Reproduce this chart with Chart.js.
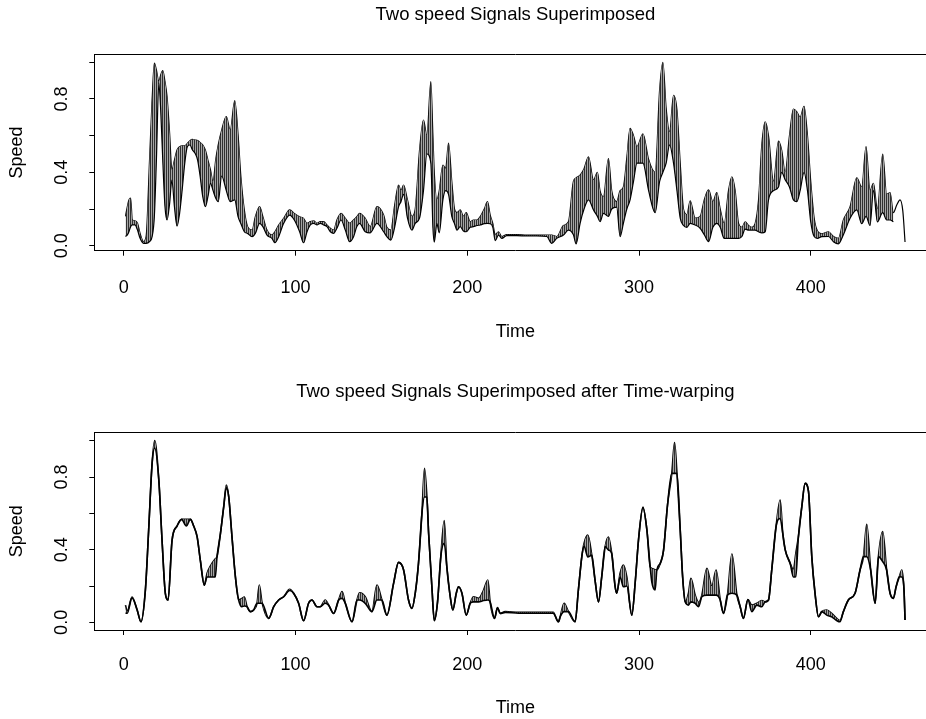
<!DOCTYPE html>
<html>
<head>
<meta charset="utf-8">
<script src="https://cdn.jsdelivr.net/npm/chart.js@4.4.1/dist/chart.umd.min.js"></script>
<style>
  html, body { margin:0; padding:0; background:#fff; overflow:hidden; }
  #wrap { position:relative; width:926px; height:719px; overflow:hidden; background:#fff; }
  canvas { position:absolute; left:0; }
  #graficoArriba { top:0; width:940px; height:360px; }
  #graficoAbajo { top:360px; width:940px; height:359px; }
</style>
</head>
<body>
<div id="wrap">
  <canvas id="graficoArriba" width="940" height="360"></canvas>
  <canvas id="graficoAbajo" width="940" height="359"></canvas>
</div>
<script>
// datos (tiempo, senal de arriba, senal de abajo)
const tiempoArriba = [1,2,3,4,5,6.5,8,9.5,11.5,13,15,16.5,17.8,19,20.4,21.5,22.7,24,25.2,26.7,28,29.5,31,32.5,34,35.5,37,38.5,40,41.5,43,44.5,46,47.5,49,50.5,52,53.5,55,57,59.7,62,64.6,66.5,68.2,70.2,72.1,74.7,76.6,79.1,81,83.4,86.3,88,90.2,93.1,96.6,99.3,102.4,104.7,106.7,108.6,110.6,112.5,114.4,116.4,118.3,120.3,122.2,124.1,126.5,129,131.5,133.8,135.7,137.3,140.6,143.5,147.4,151.3,153.2,155.5,157.7,160,161.4,162.9,165.2,167.8,169.7,172.2,174.5,176.5,178.8,180,180.8,182.3,183.7,185.8,187.4,189.1,191,192.6,194,195.9,197.8,199.4,201.7,203.6,205.6,207.5,209.9,211.8,213.3,214.9,216.3,218.2,220.1,223,228.9,234.7,240.5,246.3,249.2,252.1,256,258.9,261.8,263.4,265.7,268,270.6,273.5,275.8,277.3,279.3,282.2,284.1,287,289,290.9,292.9,294.8,296.8,298.8,302.3,305.6,309.4,312,313.9,315.8,317.8,320.1,322.1,324,325.9,327.9,329.8,332.7,335.6,338,340.5,343,345.3,347.3,349.6,352.1,354.1,356,358,359.9,361.8,363.8,365.7,367.6,369.6,371.5,373.5,375.4,378.3,381.2,383.1,385.1,387.6,389.9,391.9,393.8,396.1,398.1,400,402,403.9,406.4,410.3,413.2,416.1,419,422.9,426.8,429.7,432.2,434.5,436.5,438.8,441.9,444.2,446.2,448.1,450,452,453.6,454.9];
const senalAArriba = [0.16,0.21,0.25,0.26,0.14,0.136,0.122,0.067,0.022,0.049,0.467,0.795,0.995,0.958,0.895,0.931,0.955,0.895,0.813,0.613,0.413,0.467,0.522,0.54,0.545,0.544,0.558,0.573,0.58,0.576,0.573,0.562,0.549,0.522,0.467,0.413,0.349,0.467,0.55,0.63,0.704,0.631,0.791,0.613,0.376,0.195,0.104,0.085,0.158,0.213,0.158,0.085,0.058,0.076,0.113,0.149,0.195,0.176,0.158,0.149,0.122,0.131,0.136,0.122,0.131,0.131,0.113,0.095,0.085,0.14,0.176,0.149,0.122,0.14,0.158,0.176,0.149,0.104,0.213,0.167,0.1,0.085,0.22,0.331,0.30,0.331,0.25,0.16,0.2,0.52,0.685,0.6,0.895,0.6,0.4,0.25,0.3,0.44,0.42,0.56,0.35,0.2,0.18,0.195,0.16,0.18,0.13,0.14,0.14,0.158,0.2,0.24,0.17,0.12,0.06,0.076,0.05,0.06,0.06,0.058,0.058,0.058,0.058,0.05,0.11,0.13,0.35,0.37,0.385,0.42,0.485,0.358,0.40,0.3,0.267,0.475,0.3,0.24,0.3,0.32,0.48,0.64,0.60,0.54,0.61,0.47,0.40,0.85,1.0,0.75,0.62,0.82,0.74,0.45,0.2,0.17,0.245,0.15,0.16,0.25,0.304,0.24,0.29,0.2,0.12,0.3,0.376,0.3,0.12,0.1,0.13,0.11,0.1,0.12,0.25,0.55,0.675,0.6,0.35,0.57,0.52,0.4,0.6,0.745,0.73,0.7,0.76,0.6,0.35,0.15,0.08,0.065,0.076,0.05,0.04,0.14,0.213,0.37,0.32,0.54,0.30,0.34,0.2,0.50,0.28,0.29,0.18,0.22,0.25,0.19,0.02];
const senalBArriba = [0.05,0.058,0.076,0.104,0.113,0.113,0.085,0.04,0.013,0.013,0.022,0.049,0.158,0.467,0.885,0.74,0.467,0.213,0.14,0.231,0.358,0.213,0.107,0.176,0.304,0.449,0.54,0.549,0.522,0.504,0.467,0.376,0.267,0.213,0.267,0.34,0.30,0.26,0.24,0.38,0.30,0.24,0.25,0.16,0.12,0.076,0.067,0.049,0.067,0.122,0.104,0.058,0.04,0.016,0.049,0.122,0.167,0.14,0.076,0.016,0.076,0.113,0.122,0.113,0.122,0.113,0.104,0.076,0.067,0.095,0.14,0.085,0.022,0.049,0.104,0.122,0.076,0.07,0.122,0.076,0.05,0.03,0.1,0.213,0.24,0.28,0.15,0.085,0.122,0.15,0.3,0.5,0.45,0.1,0.02,0.12,0.07,0.25,0.30,0.28,0.16,0.12,0.085,0.104,0.08,0.076,0.1,0.104,0.11,0.113,0.12,0.122,0.12,0.1,0.027,0.058,0.04,0.055,0.055,0.053,0.053,0.05,0.013,0.04,0.058,0.085,0.06,0.01,0.122,0.2,0.25,0.195,0.16,0.131,0.176,0.16,0.2,0.21,0.049,0.122,0.2,0.25,0.35,0.45,0.45,0.30,0.18,0.35,0.40,0.45,0.55,0.45,0.3,0.15,0.11,0.1,0.122,0.113,0.095,0.06,0.022,0.1,0.122,0.1,0.04,0.04,0.04,0.04,0.04,0.05,0.09,0.085,0.085,0.085,0.076,0.07,0.076,0.25,0.3,0.32,0.4,0.36,0.32,0.25,0.24,0.3,0.4,0.3,0.13,0.05,0.04,0.049,0.05,0.022,0.01,0.06,0.15,0.195,0.12,0.16,0.11,0.3,0.13,0.18,0.14,0.14,0.13,null,null,null,null];

const tiempoAbajo = [1,2,4.8,7.8,10,12.6,14.5,16.5,18,20.4,22.3,24.2,25.8,28.1,31,33.7,36.4,38.8,40.7,42.7,44.6,46.9,48.5,50.4,53.3,54.3,56.3,58.2,59.7,61.1,63,65,66.9,68.8,70.2,71.8,73.7,75.6,77.6,78.9,80.5,84.4,87.3,90.2,93.1,96.6,98.9,101.8,104.7,107.6,109.6,112.5,114.4,117.3,119.3,122.2,125.1,127.1,129,132.9,135.8,137.3,140.6,144.5,147.4,150.3,153.2,157.1,160,162.9,165.8,167.8,169.7,171.6,173.6,175.1,176.5,177.5,179.4,180.8,182.7,184.6,186.6,188.1,190.1,191.6,193.6,194.9,196.9,199.4,201.7,203.6,206.6,209.5,212,213.3,215.9,217.6,219.2,222.1,230,240,250,253.1,254.1,256.4,258.9,262.8,264.7,266.7,268,270.2,272.5,274.4,276.4,278.3,280.3,282.2,284.1,286.1,287,289,290.9,292.9,295.8,297.9,299.7,302.3,304.6,306.5,307.5,309.4,310.4,312.4,314.3,316.6,319.1,320.7,322.1,324,325.4,326.9,328.8,330.2,332.7,334.7,336.6,339.5,342.4,344.9,347.3,349.2,351.5,354.1,357,358.9,360.8,363.4,365.7,368.6,371.5,373.5,375.4,377.3,379.8,382.2,383.7,385.1,388,389.9,391.3,392.8,394.8,396.7,398.7,400.6,402.5,404.5,406.4,409.3,412.2,415.1,417,419,421.9,425.8,428.7,430.7,432.6,434.9,437.5,439.4,441.9,444.2,446.2,448.1,449.7,451.6,453,454.3,454.9];
const senalAAbajo = [0.095,0.06,0.14,0.068,0.003,0.18,0.51,0.875,1.0,0.784,0.45,0.16,0.123,0.45,0.53,0.567,0.567,0.567,0.53,0.472,0.34,0.205,0.27,0.31,0.35,0.362,0.49,0.637,0.756,0.692,0.472,0.25,0.123,0.132,0.14,0.086,0.059,0.068,0.105,0.205,0.11,0.022,0.086,0.123,0.141,0.182,0.16,0.105,0.009,0.105,0.123,0.086,0.086,0.123,0.095,0.049,0.123,0.169,0.105,0.003,0.123,0.163,0.141,0.059,0.205,0.123,0.04,0.215,0.33,0.29,0.123,0.077,0.16,0.325,0.6,0.848,0.69,0.49,0.196,0.01,0.113,0.362,0.56,0.306,0.141,0.068,0.16,0.196,0.16,0.04,0.105,0.141,0.132,0.178,0.233,0.113,0.022,0.082,0.049,0.059,0.055,0.055,0.055,0.003,0.031,0.105,0.059,0.003,0.178,0.362,0.435,0.48,0.37,0.233,0.113,0.252,0.417,0.47,0.38,0.196,0.16,0.27,0.315,0.25,0.04,0.233,0.453,0.633,0.508,0.306,0.297,0.29,0.289,0.325,0.398,0.646,0.82,0.989,0.82,0.508,0.251,0.113,0.16,0.242,0.15,0.11,0.15,0.297,0.2,0.288,0.123,0.049,0.15,0.376,0.15,0.086,0.022,0.126,0.095,0.105,0.12,0.113,0.123,0.29,0.527,0.673,0.49,0.4,0.325,0.29,0.38,0.47,0.637,0.765,0.72,0.362,0.16,0.031,0.059,0.068,0.049,0.022,0.01,0.059,0.123,0.16,0.288,0.362,0.54,0.288,0.105,0.362,0.5,0.288,0.16,0.132,0.196,0.251,0.288,0.178,0.013];
const senalBAbajo = [0.05,0.05,0.135,0.068,0.003,0.18,0.51,0.875,0.96,0.784,0.45,0.16,0.123,0.45,0.53,0.567,0.53,0.567,0.53,0.472,0.34,0.205,0.25,0.25,0.25,0.362,0.49,0.637,0.74,0.692,0.472,0.25,0.123,0.086,0.09,0.086,0.059,0.068,0.105,0.105,0.105,0.022,0.086,0.123,0.141,0.175,0.16,0.105,0.009,0.105,0.123,0.086,0.086,0.105,0.095,0.049,0.123,0.132,0.105,0.003,0.123,0.123,0.105,0.059,0.123,0.123,0.04,0.215,0.33,0.29,0.123,0.077,0.16,0.325,0.6,0.69,0.69,0.49,0.196,0.01,0.113,0.362,0.435,0.306,0.141,0.068,0.16,0.196,0.16,0.04,0.105,0.113,0.113,0.12,0.123,0.113,0.022,0.082,0.049,0.055,0.05,0.05,0.05,0.003,0.031,0.059,0.059,0.003,0.178,0.362,0.42,0.36,0.37,0.233,0.113,0.252,0.417,0.398,0.38,0.196,0.16,0.25,0.196,0.2,0.04,0.233,0.453,0.633,0.508,0.306,0.22,0.178,0.289,0.325,0.398,0.646,0.82,0.82,0.82,0.508,0.251,0.113,0.095,0.113,0.105,0.086,0.141,0.15,0.15,0.15,0.123,0.049,0.15,0.16,0.15,0.086,0.022,0.126,0.059,0.095,0.086,0.113,0.123,0.29,0.527,0.572,0.49,0.4,0.325,0.25,0.251,0.47,0.637,0.765,0.72,0.362,0.16,0.031,0.059,0.04,0.03,0.01,0.003,0.059,0.123,0.16,0.288,0.362,0.362,0.288,0.105,0.362,0.334,0.288,0.16,0.132,0.196,0.251,0.25,0.178,0.013];

const ticksX = [0, 100, 200, 300, 400];
const ticksYConTexto = [0, 0.4, 0.8];

Chart.defaults.font.family = "'Liberation Sans', Arial, sans-serif";
Chart.defaults.font.size = 18;
Chart.defaults.color = '#000000';

// arma los puntos {x,y} sacando los huecos
function puntos(tiempos, valores){
	const lista = [];
	for (let i = 0; i < tiempos.length; i++) {
		if(valores[i] !== null){
			lista.push({x: tiempos[i], y: valores[i]});
		}
	}
	return lista;
}

function etiquetaY(v){
	for (const k of ticksYConTexto) {
		if(Math.abs(v - k) < 1e-6) return k.toFixed(1);
	}
	return '';
}

// rayado vertical para el area entre las dos senales
function rayado(){
	const c = document.createElement('canvas');
	c.width = 2;
	c.height = 2;
	const ctx = c.getContext('2d');
	ctx.fillStyle = '#a4a4a4';
	ctx.fillRect(0, 0, 2, 2);
	ctx.fillStyle = '#303030';
	ctx.fillRect(0, 0, 1, 2);
	return ctx.createPattern(c, 'repeat');
}

// crea un panel (dos senales con el area entre ellas)
function pintaPanel(canvas, cfg){
	const datasets = [
		{
			data: puntos(cfg.tiempo, cfg.abajo),
			borderColor: '#000000',
			borderWidth: cfg.grosor,
			pointRadius: 0,
			cubicInterpolationMode: 'monotone',
			backgroundColor: rayado(),
			fill: '+1'
		},
		{
			data: puntos(cfg.tiempo, cfg.arriba),
			borderColor: '#000000',
			borderWidth: cfg.grosor,
			pointRadius: 0,
			cubicInterpolationMode: 'monotone',
			fill: false
		}
	];

	const options = {
		responsive: false,
		animation: false,
		devicePixelRatio: 1,
		layout: { padding: { left: 0, top: 0, right: 3.6, bottom: 0 } },
		plugins: { legend: { display: false }, tooltip: { enabled: false } },
		scales: {
			x: {
				type: 'linear',
				position: 'bottom',
				min: -17.16,
				max: 473.16,
				afterFit: s => { s.height = cfg.altoEjeX; },
				afterBuildTicks: s => { s.ticks = ticksX.map(v => ({value: v})); },
				ticks: { color: '#000', padding: cfg.padTicksX, maxRotation: 0, autoSkip: false, callback: v => String(v) },
				grid: { drawOnChartArea: false, drawTicks: true, tickLength: 5, color: '#000' },
				border: { display: true, color: '#000', width: 1 },
				title: { display: true, text: 'Time', color: '#000', padding: { top: 0, bottom: cfg.padTime } }
			},
			arriba: {
				type: 'linear',
				position: 'top',
				afterFit: s => { s.height = cfg.altoTitulo; },
				ticks: { display: false },
				grid: { display: false, drawTicks: false },
				border: { display: true, color: '#000', width: 1 },
				title: { display: true, text: cfg.titulo, color: '#000', font: { size: 18.5 }, padding: { top: cfg.padTitulo, bottom: 0 } }
			},
			y: {
				type: 'linear',
				min: cfg.yMin,
				max: cfg.yMax,
				afterFit: s => { s.width = 94.3; },
				ticks: {
					stepSize: 0.2,
					includeBounds: false,
					autoSkip: false,
					minRotation: 90,
					maxRotation: 90,
					crossAlign: 'center',
					padding: 14.5,
					color: '#000',
					callback: v => etiquetaY(v)
				},
				grid: { drawOnChartArea: false, drawTicks: true, tickLength: 5, color: '#000' },
				border: { display: true, color: '#000', width: 1 },
				title: { display: true, text: 'Speed', color: '#000', padding: { top: 6.7, bottom: 0 } }
			}
		}
	};

	return new Chart(canvas, { type: 'line', data: { datasets: datasets }, options: options });
}

pintaPanel(document.querySelector('#graficoArriba'), {
	tiempo: tiempoArriba, arriba: senalAArriba, abajo: senalBArriba,
	titulo: 'Two speed Signals Superimposed',
	yMin: -0.0273, yMax: 1.0436, grosor: 1.2,
	altoTitulo: 54.3, altoEjeX: 109.3,
	padTitulo: 3.9, padTicksX: 21.5, padTime: 17.2
});

pintaPanel(document.querySelector('#graficoAbajo'), {
	tiempo: tiempoAbajo, arriba: senalAAbajo, abajo: senalBAbajo,
	titulo: 'Two speed Signals Superimposed after Time-warping',
	yMin: -0.042, yMax: 1.046, grosor: 1.6,
	altoTitulo: 72.3, altoEjeX: 89,
	padTitulo: 20.4, padTicksX: 19.2, padTime: 0.2
});
</script>
</body>
</html>
